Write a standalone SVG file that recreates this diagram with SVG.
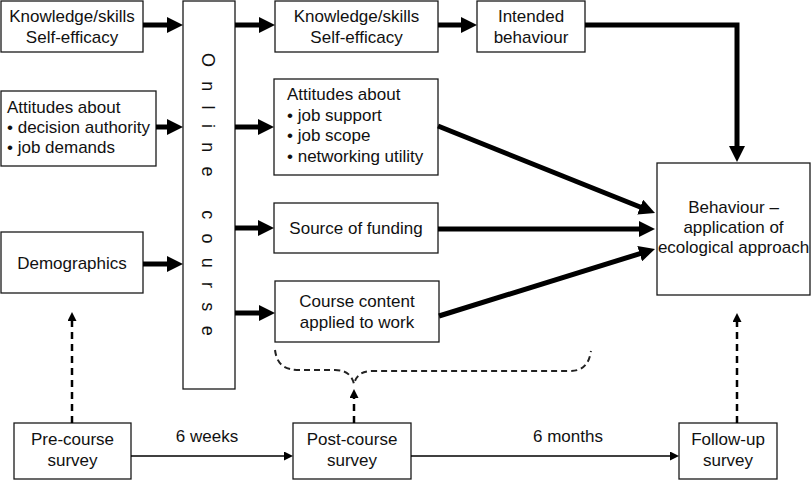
<svg xmlns="http://www.w3.org/2000/svg" width="812" height="480" viewBox="0 0 812 480">
<style>
  .box { fill: #fff; stroke: #1a1a1a; stroke-width: 1.3; }
  text { font-family: "Liberation Sans", Arial, sans-serif; font-size: 17px; fill: #111; }
  .c { text-anchor: middle; }
  .thick { stroke: #000; stroke-width: 5; fill: none; }
  .thin { stroke: #000; stroke-width: 1.5; fill: none; }
  .dash { stroke: #000; stroke-width: 2.5; fill: none; stroke-dasharray: 7 5; }
  .brace { stroke: #222; stroke-width: 2; fill: none; stroke-dasharray: 6 4; }
</style>
<defs>
  <marker id="big" markerUnits="userSpaceOnUse" markerWidth="16" markerHeight="16" refX="2" refY="8" orient="auto">
    <path d="M0,0 L16,8 L0,16 z" fill="#000"/>
  </marker>
  <marker id="small" markerUnits="userSpaceOnUse" markerWidth="10" markerHeight="9" refX="1" refY="4.5" orient="auto">
    <path d="M0,0 L9,4.5 L0,9 z" fill="#000"/>
  </marker>
</defs>

<g id="pre_knowledge"><rect class="box" x="1" y="1" width="142" height="51"/>
  <text class="c" x="72" y="22">Knowledge/skills</text><text class="c" x="72" y="43">Self-efficacy</text></g>
<g id="pre_attitudes"><rect class="box" x="1" y="91" width="155" height="75"/>
  <text x="7" y="113">Attitudes about</text><text x="7" y="133">• decision authority</text><text x="7" y="153">• job demands</text></g>
<g id="demographics"><rect class="box" x="1" y="232" width="142" height="61"/>
  <text class="c" x="72" y="269">Demographics</text></g>
<g id="online_course"><rect class="box" x="183" y="1" width="52" height="388"/>
  <text transform="translate(202,53) rotate(90)" font-size="18" letter-spacing="14.3" style="font-size:18px">Online course</text></g>
<g id="post_knowledge"><rect class="box" x="275" y="1" width="163" height="51"/>
  <text class="c" x="356.5" y="22">Knowledge/skills</text><text class="c" x="356.5" y="43">Self-efficacy</text></g>
<g id="intended"><rect class="box" x="477" y="1" width="108" height="51"/>
  <text class="c" x="531" y="22">Intended</text><text class="c" x="531" y="43">behaviour</text></g>
<g id="post_attitudes"><rect class="box" x="274" y="79" width="164" height="96"/>
  <text x="287" y="100">Attitudes about</text><text x="287" y="120.5">• job support</text><text x="287" y="141">• job scope</text><text x="287" y="161.5">• networking utility</text></g>
<g id="funding"><rect class="box" x="274" y="203" width="164" height="50"/>
  <text class="c" x="356" y="234">Source of funding</text></g>
<g id="content"><rect class="box" x="275" y="281" width="164" height="61"/>
  <text class="c" x="357" y="307">Course content</text><text class="c" x="357" y="328">applied to work</text></g>
<g id="behaviour"><rect class="box" x="657" y="163" width="153" height="132"/>
  <text class="c" x="733.5" y="213">Behaviour –</text><text class="c" x="733.5" y="233">application of</text><text class="c" x="733.5" y="253">ecological approach</text></g>
<g id="pre_survey"><rect class="box" x="14" y="423" width="117" height="56"/>
  <text class="c" x="72.5" y="445">Pre-course</text><text class="c" x="72.5" y="466">survey</text></g>
<g id="post_survey"><rect class="box" x="293" y="423" width="118" height="56"/>
  <text class="c" x="352" y="445">Post-course</text><text class="c" x="352" y="466">survey</text></g>
<g id="follow_up"><rect class="box" x="679" y="423" width="98" height="56"/>
  <text class="c" x="728" y="445">Follow-up</text><text class="c" x="728" y="466">survey</text></g>

<g id="connectors">
  <line class="thick" x1="143" y1="25" x2="169" y2="25" marker-end="url(#big)"/>
  <line class="thick" x1="156" y1="127" x2="169" y2="127" marker-end="url(#big)"/>
  <line class="thick" x1="143" y1="264" x2="169" y2="264" marker-end="url(#big)"/>
  <line class="thick" x1="235" y1="25" x2="261" y2="25" marker-end="url(#big)"/>
  <line class="thick" x1="235" y1="127" x2="260" y2="127" marker-end="url(#big)"/>
  <line class="thick" x1="235" y1="228" x2="260" y2="228" marker-end="url(#big)"/>
  <line class="thick" x1="235" y1="313" x2="261" y2="313" marker-end="url(#big)"/>
  <line class="thick" x1="438" y1="25" x2="463" y2="25" marker-end="url(#big)"/>
  <path class="thick" d="M585,25 H737 V148" marker-end="url(#big)"/>
  <line class="thick" x1="438" y1="126" x2="642" y2="207.8" marker-end="url(#big)"/>
  <line class="thick" x1="438" y1="229" x2="641" y2="229" marker-end="url(#big)"/>
  <line class="thick" x1="439" y1="316" x2="641.6" y2="253.1" marker-end="url(#big)"/>
  <line class="thin" x1="131" y1="456" x2="285" y2="456" marker-end="url(#small)"/>
  <line class="thin" x1="411" y1="456" x2="671" y2="456" marker-end="url(#small)"/>
  <text class="c" x="207" y="442">6 weeks</text>
  <text class="c" x="568" y="442">6 months</text>
  <line class="dash" x1="72" y1="423" x2="72" y2="320" marker-end="url(#small)"/>
  <line class="dash" x1="354" y1="423" x2="354" y2="397" marker-end="url(#small)"/>
  <line class="dash" x1="737" y1="423" x2="737" y2="321" marker-end="url(#small)"/>
  <path class="brace" d="M275,350 C277,365 285,370 300,370 H335 C347,370 352,376 354,384 C356,376 361,371 373,371 H570 C583,371 589,364 591,351"/>
</g>
</svg>
